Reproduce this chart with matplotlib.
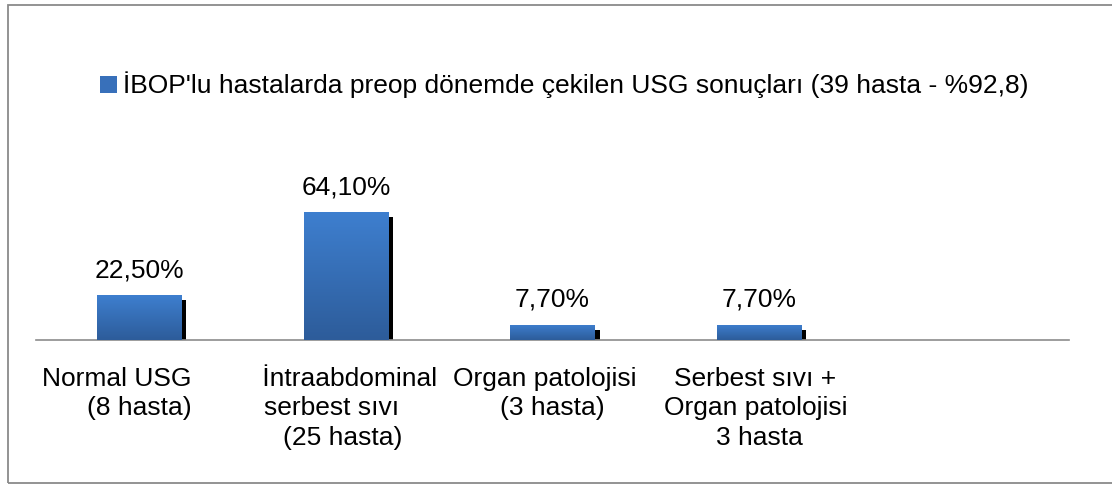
import matplotlib
matplotlib.use("Agg")
import matplotlib.pyplot as plt
import numpy as np
from matplotlib.patches import Rectangle
from matplotlib.transforms import ScaledTranslation
from matplotlib.colors import LinearSegmentedColormap

# ---- data ----
categories = [
    "Normal USG      \n(8 hasta)",
    " İntraabdominal\nserbest sıvı    \n(25 hasta) ",
    "Organ patolojisi  \n(3 hasta)",
    "Serbest sıvı + \nOrgan patolojisi \n3 hasta",
    "",
]
values = [22.5, 64.1, 7.7, 7.7]
series_label = "İBOP'lu hastalarda preop dönemde çekilen USG sonuçları (39 hasta - %92,8)"

plt.rcParams['font.family'] = ['Liberation Sans', 'DejaVu Sans']

W, H, DPI = 1112, 484, 100
fig = plt.figure(figsize=(W / DPI, H / DPI), dpi=DPI)
ax = fig.add_axes([36 / W, (H - 340) / H, 1033 / W, 210 / H])

x = np.arange(len(categories))
xv = x[:len(values)]
width = 0.407

# shadow bars (offset right and down, clipped at axis)
shadow_tr = ax.transData + ScaledTranslation(5 / DPI, -5 / DPI, fig.dpi_scale_trans)
ax.bar(xv, values, width, color='black', transform=shadow_tr, zorder=1)

bars = ax.bar(xv, values, width, color='#3870BA', zorder=2, label=series_label)

# gradient fill
cmap = LinearSegmentedColormap.from_list('g', ['#2D5C9A', '#3E7FCF'])
grad = np.linspace(0, 1, 256).reshape(-1, 1)
for p in bars.patches:
    x0, y0 = p.get_x(), p.get_y()
    im = ax.imshow(grad, extent=[x0, x0 + p.get_width(), y0, y0 + p.get_height()],
                   origin='lower', aspect='auto', cmap=cmap, zorder=3)
    im.set_clip_path(p)

for xi, v in zip(xv, values):
    ax.annotate(f"{v:.2f}".replace('.', ',') + '%', xy=(xi, v), xytext=(0, 13),
                textcoords='offset points', ha='center', va='baseline', fontsize=19,
                color='black')

ax.set_xlim(-0.5, len(categories) - 0.5)
ax.set_ylim(0, 105.5)
ax.set_xticks(x)
ax.set_xticklabels(categories, fontsize=19, linespacing=1.28)
ax.tick_params(axis='x', length=0, pad=19.5)
ax.set_yticks([])
for s in ['top', 'left', 'right']:
    ax.spines[s].set_visible(False)
ax.spines['bottom'].set_color('#8c8c8c')
ax.spines['bottom'].set_linewidth(1.2)
ax.patch.set_visible(False)

fig.legend(handles=[bars], labels=[series_label], loc='center',
           bbox_to_anchor=(564.5 / W, 1 - 85 / H), frameon=False, fontsize=19,
           handlelength=0.62, handleheight=0.62, handletextpad=0.25)

fig.add_artist(Rectangle((8 / W, 1 - 483 / H), (1125 - 8) / W, (483 - 5) / H,
                         transform=fig.transFigure, fill=False,
                         edgecolor='#8a8a8a', linewidth=1.3))

fig.savefig('out.png', dpi=DPI)
